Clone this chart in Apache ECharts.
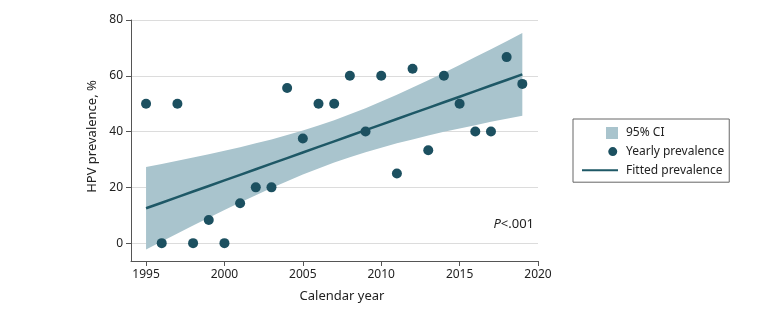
<!DOCTYPE html>
<html>
<head>
<meta charset="utf-8">
<script src="https://cdn.jsdelivr.net/npm/echarts@6/dist/echarts.min.js"></script>
<style>
  html, body { margin: 0; padding: 0; background: #fff; }
  #chart { width: 780px; height: 317px; }
</style>
</head>
<body>
<div id="chart"></div>
<script>
  // yearly values
  const years = [1995, 1996, 1997, 1998, 1999, 2000, 2001, 2002, 2003, 2004, 2005, 2006, 2007,
    2008, 2009, 2010, 2011, 2012, 2013, 2014, 2015, 2016, 2017, 2018, 2019];
  const yearly = [50, 0, 50, 0, 8.3, 0, 14.3, 20, 20, 55.6, 37.5, 50, 50,
    60, 40, 60, 25, 62.5, 33.3, 60, 50, 40, 40, 66.7, 57.1];
  const fitted = [12.5, 14.5, 16.5, 18.5, 20.5, 22.5, 24.5, 26.5, 28.5, 30.5, 32.5, 34.5, 36.5,
    38.5, 40.5, 42.5, 44.5, 46.5, 48.5, 50.5, 52.5, 54.5, 56.5, 58.5, 60.5];
  const ciLower = [-2.3, 0.6, 3.5, 6.3, 9.1, 11.9, 14.6, 17.2, 19.8, 22.2, 24.6, 26.8, 28.9,
    30.8, 32.6, 34.2, 35.8, 37.2, 38.6, 39.9, 41.1, 42.3, 43.5, 44.6, 45.7];
  const ciUpper = [27.3, 28.4, 29.5, 30.7, 31.9, 33.1, 34.4, 35.8, 37.2, 38.8, 40.4, 42.2, 44.1,
    46.2, 48.4, 50.8, 53.2, 55.8, 58.4, 61.1, 63.9, 66.7, 69.5, 72.4, 75.3];
  const xTicks = [1995, 2000, 2005, 2010, 2015, 2020];
  const yTicks = [0, 20, 40, 60, 80];

  const bandColor = '#a9c4cd';
  const dotColor = '#1c5060';
  const lineColor = '#1e5866';
  const font = 'Noto Sans';

  const chart = echarts.init(document.getElementById('chart'));

  // CI band as one polygon: upper edge left->right, lower edge right->left
  function renderBand(params, api) {
    if (params.dataIndex !== 0) return;
    const top = years.map((y, i) => api.coord([y, ciUpper[i]]));
    const bottom = years.map((y, i) => api.coord([y, ciLower[i]])).reverse();
    return {
      type: 'polygon',
      shape: { points: top.concat(bottom) },
      style: { fill: bandColor }
    };
  }

  chart.setOption({
    animation: false,
    textStyle: { fontFamily: font },
    grid: { left: 131, right: 242, top: 20, bottom: 56 },
    xAxis: {
      type: 'value',
      min: 1994.04,
      max: 2020,
      name: 'Calendar year',
      nameLocation: 'middle',
      nameGap: 29,
      nameTextStyle: { fontSize: 13, color: '#222', padding: [0, 0, 0, 15] },
      axisLine: { onZero: false, lineStyle: { color: '#555' } },
      axisTick: { customValues: xTicks, length: 5, lineStyle: { color: '#555' } },
      axisLabel: {
        customValues: xTicks, fontSize: 12, color: '#222', margin: 8,
        formatter: (v) => String(v)
      },
      splitLine: { show: false }
    },
    yAxis: {
      type: 'value',
      min: -6.4,
      max: 80,
      name: 'HPV prevalence, %',
      nameLocation: 'middle',
      nameGap: 26,
      nameTextStyle: { fontSize: 13, color: '#222', padding: [0, 0, 0, 8] },
      axisLine: { show: true, lineStyle: { color: '#555' } },
      axisTick: { show: true, customValues: yTicks, length: 5, lineStyle: { color: '#555' } },
      axisLabel: { customValues: yTicks, fontSize: 12, color: '#222', margin: 8 },
      splitLine: { show: true, lineStyle: { color: '#dcdcdc' } }
    },
    legend: {
      orient: 'vertical',
      left: 573,
      top: 119,
      padding: [8, 5, 6, 9],
      itemWidth: 36,
      itemHeight: 12,
      itemGap: 6.6,
      borderColor: '#666',
      borderWidth: 1,
      borderRadius: 0,
      selectedMode: false,
      textStyle: { fontSize: 12, color: '#222', padding: [0, 0, 0, 3] },
      data: [
        { name: '95% CI', icon: 'path://M0,0L0.01,0Z M0,12L0.01,12Z M24,0L36,0L36,12L24,12Z' },
        { name: 'Yearly prevalence', icon: 'path://M0,0L0.01,0Z M0,12L0.01,12Z M25.5,6A4.5,4.5 0 1 1 34.5,6A4.5,4.5 0 1 1 25.5,6Z' },
        { name: 'Fitted prevalence', icon: 'path://M0,0L0.01,0Z M0,12L0.01,12Z M0,5L36,5L36,7L0,7Z' }
      ]
    },
    graphic: [{
      type: 'text',
      right: 246,
      top: 218,
      style: {
        text: '{i|P}<.001',
        font: '13px "Noto Sans"',
        fill: '#222',
        rich: { i: { fontStyle: 'italic', fontSize: 13, fontFamily: font } }
      }
    }],
    series: [
      {
        name: '95% CI',
        type: 'custom',
        silent: true,
        color: bandColor,
        itemStyle: { color: bandColor },
        renderItem: renderBand,
        data: [[years[0], ciLower[0]]],
        z: 1
      },
      {
        name: 'Fitted prevalence',
        type: 'line',
        symbol: 'none',
        color: lineColor,
        lineStyle: { width: 2.5, color: lineColor },
        data: years.map((y, i) => [y, fitted[i]]),
        z: 3
      },
      {
        name: 'Yearly prevalence',
        type: 'scatter',
        symbolSize: 10,
        color: dotColor,
        itemStyle: { color: dotColor, opacity: 1 },
        data: years.map((y, i) => [y, yearly[i]]),
        z: 4
      }
    ]
  });
</script>
</body>
</html>
